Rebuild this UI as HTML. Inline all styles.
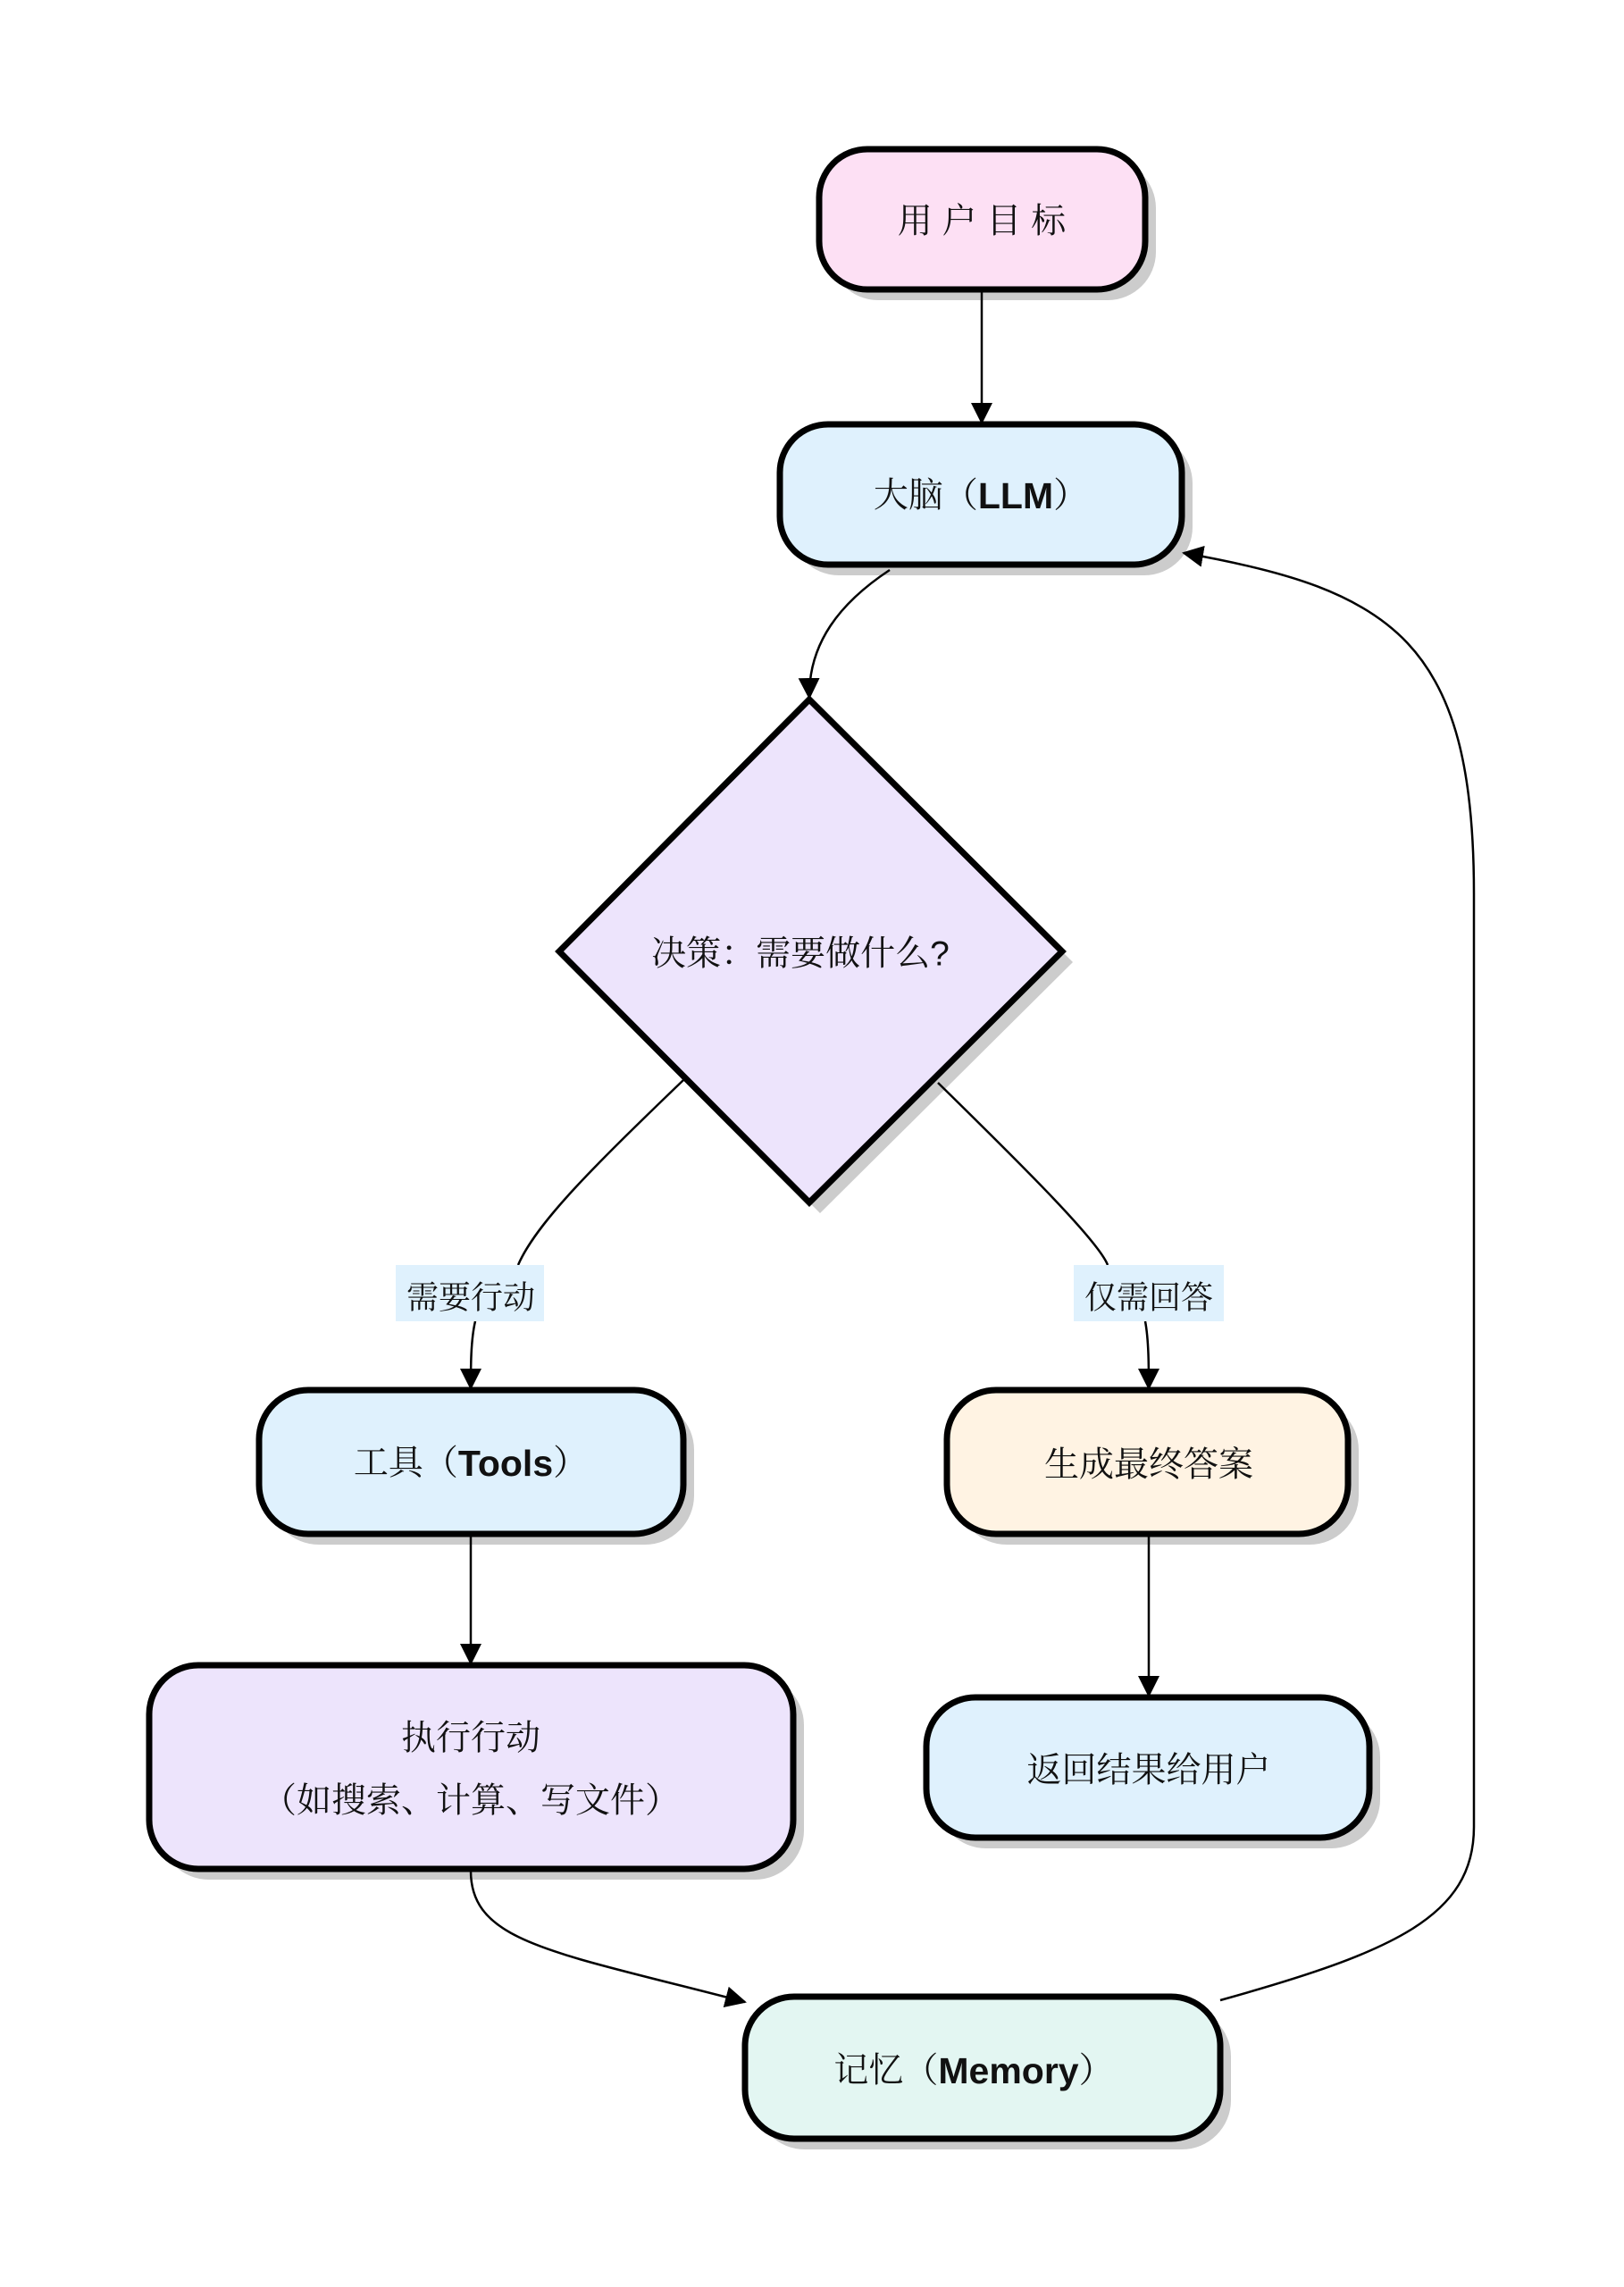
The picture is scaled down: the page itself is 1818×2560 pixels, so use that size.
<!DOCTYPE html>
<html><head><meta charset="utf-8"><style>
html,body{margin:0;padding:0;background:#fff;}
svg{display:block;}
text{font-family:"Liberation Sans","Noto Serif CJK SC","Noto Sans CJK SC",sans-serif;font-size:39px;fill:#111;text-anchor:middle;dominant-baseline:central;}
.b{font-weight:bold;font-size:41px;}
</style></head><body>
<svg width="1818" height="2560" viewBox="0 0 1818 2560" xmlns="http://www.w3.org/2000/svg">
<defs>
<marker id="ar" viewBox="0 0 12 12" refX="11" refY="6" markerWidth="24" markerHeight="24" markerUnits="userSpaceOnUse" orient="auto"><path d="M0,0 L12,6 L0,12 z" fill="#000"/></marker>
</defs>
<g fill="#ccc">
<rect x="929" y="179" width="365" height="157" rx="54"/>
<rect x="885" y="487" width="450" height="157" rx="54"/>
<polygon points="918,795 1201,1077 918,1358 638,1077"/>
<rect x="302" y="1568" width="475" height="161" rx="55"/>
<rect x="1072" y="1568" width="449" height="161" rx="55"/>
<rect x="179" y="1876" width="721" height="228" rx="55"/>
<rect x="1049" y="1912" width="496" height="157" rx="55"/>
<rect x="846" y="2247" width="532" height="159" rx="55"/>
</g>
<g stroke="#000" stroke-width="7">
<rect x="917" y="167" width="365" height="157" rx="54" fill="#fde0f4"/>
<rect x="873" y="475" width="450" height="157" rx="54" fill="#dff1fd"/>
<polygon points="906,783 1189,1065 906,1346 626,1065" fill="#ede4fc"/>
<rect x="290" y="1556" width="475" height="161" rx="55" fill="#dff1fd"/>
<rect x="1060" y="1556" width="449" height="161" rx="55" fill="#fff3e3"/>
<rect x="167" y="1864" width="721" height="228" rx="55" fill="#ede4fc"/>
<rect x="1037" y="1900" width="496" height="157" rx="55" fill="#dff1fd"/>
<rect x="834" y="2235" width="532" height="159" rx="55" fill="#e3f6f2"/>
</g>
<g stroke="#000" stroke-width="2.5" fill="none">
<path d="M1099,326 L1099,473" marker-end="url(#ar)"/>
<path d="M996,638 C940,675 905,720 906,781" marker-end="url(#ar)"/>
<path d="M765,1209 C660,1310 600,1370 580,1416"/>
<path d="M532,1479 C527,1500 527,1530 527,1554" marker-end="url(#ar)"/>
<path d="M1050,1212 C1150,1310 1230,1390 1240,1416"/>
<path d="M1282,1479 C1286,1500 1286,1530 1286,1554" marker-end="url(#ar)"/>
<path d="M527,1719 L527,1862" marker-end="url(#ar)"/>
<path d="M1286,1719 L1286,1898" marker-end="url(#ar)"/>
<path d="M527,2094 C527,2175 620,2185 834,2241" marker-end="url(#ar)"/>
<path d="M1366,2239 C1560,2185 1650,2145 1650,2045 L1650,1000 C1650,720 1560,660 1325,619" marker-end="url(#ar)"/>
</g>
<rect x="443" y="1416" width="166" height="63" fill="#dff1fd"/>
<rect x="1202" y="1416" width="168" height="63" fill="#dff1fd"/>
<text x="1099" y="248">用 户 目 标</text>
<text x="1098" y="555">大脑（<tspan class="b">LLM</tspan>）</text>
<text x="896" y="1068">决策：需要做什么?</text>
<text x="527" y="1452" style="font-size:36px">需要行动</text>
<text x="1286" y="1452" style="font-size:36px">仅需回答</text>
<text x="527" y="1638">工具（<tspan class="b">Tools</tspan>）</text>
<text x="1286" y="1640">生成最终答案</text>
<text x="527" y="1946">执行行动</text>
<text x="527" y="2016">（如搜索、计算、写文件）</text>
<text x="1286" y="1982">返回结果给用户</text>
<text x="1090" y="2318">记忆（<tspan class="b">Memory</tspan>）</text>
</svg>
</body></html>
